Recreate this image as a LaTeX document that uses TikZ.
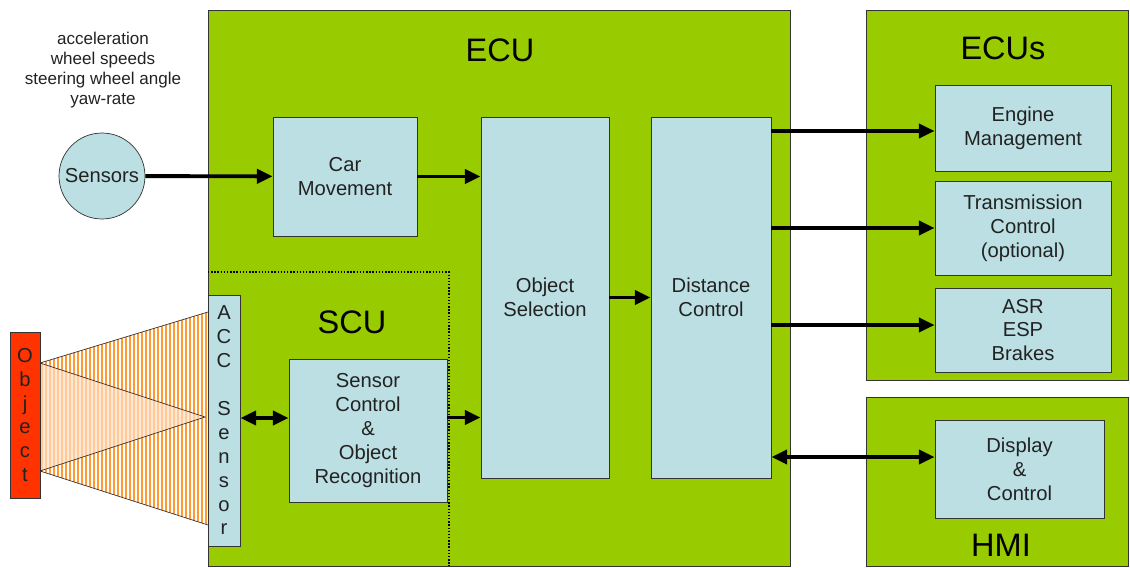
\documentclass[tikz,border=0pt]{standalone}
\usepackage{fontspec}
\setmainfont{Liberation Sans}
\usetikzlibrary{arrows.meta,positioning,calc}
\definecolor{unitgreen}{HTML}{99CC00}
\definecolor{blockblue}{HTML}{BBDFE3}
\definecolor{objred}{HTML}{FF3300}
\definecolor{beamorange}{HTML}{FF9933}
\definecolor{txt}{HTML}{222222}
\tikzset{
  unit/.style={draw=black!80, fill=unitgreen, inner sep=0pt},
  block/.style={draw=black!80, fill=blockblue, align=center, inner sep=2pt, text=txt,
    font=\fontsize{11.5}{13.6}\selectfont},
  unittitle/.style={font=\fontsize{18.5}{22}\selectfont, text=black},
  edge/.style={-{Triangle[length=9pt,width=8pt]}, line width=2.2pt},
  biedge/.style={{Triangle[length=9pt,width=8pt]}-{Triangle[length=9pt,width=8pt]}, line width=2.2pt}
}

\begin{document}
\begin{tikzpicture}[x=0.02cm, y=-0.02cm]
\useasboundingbox (0,0) rectangle (1130,568);

% control units
\node[unit, minimum width=11.64cm, minimum height=11.12cm] (ecu) at (499,288) {};
\node[unit, minimum width=5.24cm, minimum height=7.4cm] (ecus) at (997,195) {};
\node[unit, minimum width=5.24cm, minimum height=3.38cm] (hmi) at (997,481.5) {};
\node[unittitle] (ecutitle) at (500,50) {ECU};
\node[unittitle] (ecustitle) at (1003,48) {ECUs};
\node[unittitle] (hmititle) at (1001,545) {HMI};
\node[unittitle] (scutitle) at (352,322) {SCU};
\draw[densely dotted, thick] (208,272) -- (449,272) -- (449,566);

% radar beams
\begin{scope}
  \clip (40,363) -- (208,312) -- (208,525) -- (40,471) -- cycle;
  \fill[white] (40,300) rectangle (208,530);
  \foreach \i in {42,46,...,206}
    \draw[beamorange, line width=1.1pt] (\i,300) -- (\i,530);
  \fill[beamorange!30, opacity=0.7] (40,363) -- (205,417) -- (40,471) -- cycle;
\end{scope}
\draw[black!80] (40,363) -- (208,312);
\draw[black!80] (40,363) -- (205,417) -- (40,471);
\draw[black!80] (40,471) -- (208,525);

% blocks
\node[block, circle, minimum size=1.72cm, inner sep=0pt] (sens) at (102,176) {Sensors};
\node[align=center, text=txt, font=\fontsize{9.7}{11.3}\selectfont] (senslist) at (103,70)
  {acceleration\\wheel speeds\\steering wheel angle\\yaw-rate};
\node[block, minimum width=2.88cm, minimum height=2.38cm] (carmov) at (345,176.5) {Car\\Movement};
\node[block, minimum width=2.56cm, minimum height=7.22cm] (objsel) at (545,297.5) {Object\\Selection};
\node[block, minimum width=2.4cm, minimum height=7.22cm] (distctl) at (711,297.5) {Distance\\Control};
\node[block, minimum width=3.16cm, minimum height=2.86cm] (sensctl) at (368,430.5)
  {Sensor\\Control\\\&\\Object\\Recognition};
\node[block, minimum width=0.64cm, minimum height=5.02cm, inner sep=0pt] (acc) at (224,420.5)
  {A\\C\\C\\[13.6pt]S\\e\\n\\s\\o\\r};
\node[block, fill=objred, minimum width=0.6cm, minimum height=3.32cm, inner sep=0pt] (obj) at (25,415)
  {O\\b\\j\\e\\c\\t};
\node[block, minimum width=3.52cm, minimum height=1.72cm] (engine) at (1023,128) {Engine\\Management};
\node[block, minimum width=3.52cm, minimum height=1.88cm] (trans) at (1023,228) {Transmission\\Control\\(optional)};
\node[block, minimum width=3.52cm, minimum height=1.68cm] (asr) at (1023,330) {ASR\\ESP\\Brakes};
\node[block, minimum width=3.38cm, minimum height=1.96cm] (disp) at (1019.5,469) {Display\\\&\\Control};

% signal flow
\draw[edge] (sens) -- (carmov);
\draw[edge] (carmov.east) -- (carmov.east -| objsel.west);
\draw[edge] (objsel) -- (distctl);
\draw[edge] ([yshift=0.26cm]sensctl.east) -- ([yshift=0.26cm]sensctl.east -| objsel.west);
\draw[biedge] ([yshift=0.05cm]acc.east) -- ([yshift=0.05cm]acc.east -| sensctl.west);
\draw[edge] (distctl.east |- 0,131) -- (engine.west |- 0,131);
\draw[edge] (distctl.east |- trans) -- (trans);
\draw[edge] (distctl.east |- 0,325) -- (asr.west |- 0,325);
\draw[biedge] (distctl.east |- 0,457) -- (disp.west |- 0,457);
\end{tikzpicture}
\end{document}
